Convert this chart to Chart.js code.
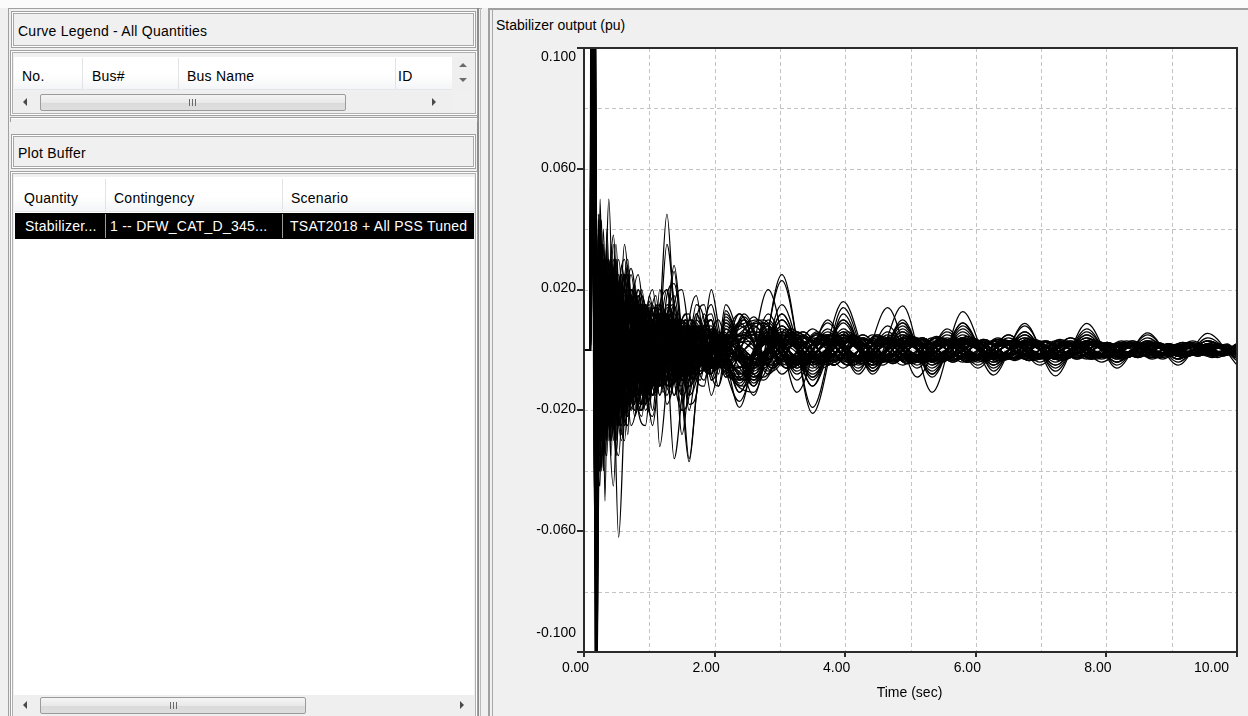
<!DOCTYPE html>
<html>
<head>
<meta charset="utf-8">
<title>Stabilizer output</title>
<script src="https://cdn.jsdelivr.net/npm/chart.js@4.4.1/dist/chart.umd.min.js"></script>
<style>
  html, body { margin:0; padding:0; }
  body { width:1248px; height:716px; overflow:hidden; position:relative; background:#f0f0f0;
         font-family:"Liberation Sans", Arial, sans-serif; font-size:14px; color:#000; }
  .a { position:absolute; box-sizing:border-box; }
  .t { position:absolute; white-space:nowrap; line-height:16px; letter-spacing:0.25px; }
  .hdrbox { border:1px solid #a0a0a0; box-shadow: inset 0 0 0 1px #ffffff, inset 0 0 0 2px #a8a8a8; background:#f0f0f0; }
  .panel { border:1px solid #a0a0a0; box-shadow: inset 0 0 0 1px #ffffff, inset 0 0 0 2px #b0b0b0; background:#f0f0f0; }
  .colhdr { background:linear-gradient(#ffffff 0%, #ffffff 55%, #f4f5f7 100%); border-bottom:1px solid #e3e6ea; }
  .sep { position:absolute; width:1px; background:#e1e3e6; }
  .track { background:#efefef; }
  .thumb { position:absolute; box-sizing:border-box; border:1px solid #9b9b9b; border-radius:2px;
           background:linear-gradient(#f4f4f4, #e9e9e9 50%, #dadada 51%, #dedede); }
  .grip { position:absolute; width:1px; height:7px; background:#6a6a6a; }
  .tl { position:absolute; width:0; height:0; border-top:4px solid transparent; border-bottom:4px solid transparent; border-right:4px solid #4a4a4a; }
  .tr { position:absolute; width:0; height:0; border-top:4px solid transparent; border-bottom:4px solid transparent; border-left:4px solid #4a4a4a; }
  .tu { position:absolute; width:0; height:0; border-left:4px solid transparent; border-right:4px solid transparent; border-bottom:4px solid #6a6a6a; }
  .td { position:absolute; width:0; height:0; border-left:4px solid transparent; border-right:4px solid transparent; border-top:4px solid #6a6a6a; }
  #c { position:absolute; left:494px; top:10px; }
  #dbg { position:absolute; left:600px; top:300px; color:red; font-size:20px; }
</style>
</head>
<body>
<div class="a" style="left:0;top:0;width:1248px;height:8px;background:#fbfbfb;"></div>

<div class="a" style="left:8px;top:8px;width:474px;height:720px;border-left:1px solid #a0a0a0;border-top:1px solid #a0a0a0;"></div>
<div class="a" style="left:477px;top:8px;width:2px;height:716px;background:#8c8c8c;"></div>
<div class="a" style="left:480px;top:8px;width:1px;height:716px;background:#b8b8b8;"></div>

<div class="a hdrbox" style="left:11px;top:11px;width:465px;height:37px;"></div>
<div class="t" style="left:18px;top:23px;">Curve Legend - All Quantities</div>

<div class="a panel" style="left:10px;top:50px;width:468px;height:66px;"></div>
<div class="a colhdr" style="left:14px;top:57px;width:438px;height:33px;"></div>
<div class="sep" style="left:82px;top:58px;height:31px;"></div>
<div class="sep" style="left:178px;top:58px;height:31px;"></div>
<div class="sep" style="left:395px;top:58px;height:31px;"></div>
<div class="t" style="left:22px;top:68px;">No.</div>
<div class="t" style="left:92px;top:68px;">Bus#</div>
<div class="t" style="left:187px;top:68px;">Bus Name</div>
<div class="t" style="left:398px;top:68px;">ID</div>
<div class="a track" style="left:452px;top:57px;width:22px;height:33px;"></div>
<div class="tu" style="left:459px;top:63px;"></div>
<div class="td" style="left:459px;top:78px;"></div>
<div class="a track" style="left:14px;top:92px;width:438px;height:21px;"></div>
<div class="tl" style="left:23px;top:98px;"></div>
<div class="thumb" style="left:40px;top:94px;width:306px;height:17px;"></div>
<div class="grip" style="left:189px;top:99px;"></div>
<div class="grip" style="left:192px;top:99px;"></div>
<div class="grip" style="left:195px;top:99px;"></div>
<div class="tr" style="left:432px;top:98px;"></div>

<div class="a" style="left:10px;top:117px;width:468px;height:1px;background:#a0a0a0;"></div>
<div class="a" style="left:10px;top:118px;width:468px;height:1px;background:#ffffff;"></div>
<div class="a" style="left:10px;top:117px;width:1px;height:5px;background:#a0a0a0;"></div>
<div class="a" style="left:477px;top:117px;width:1px;height:5px;background:#a0a0a0;"></div>

<div class="a hdrbox" style="left:11px;top:134px;width:465px;height:35px;"></div>
<div class="t" style="left:18px;top:145px;">Plot Buffer</div>

<div class="a panel" style="left:10px;top:171px;width:468px;height:560px;"></div>
<div class="a" style="left:14px;top:177px;width:460px;height:518px;background:#ffffff;"></div>
<div class="a colhdr" style="left:14px;top:178px;width:460px;height:34px;"></div>
<div class="sep" style="left:105px;top:179px;height:33px;"></div>
<div class="sep" style="left:282px;top:179px;height:33px;"></div>
<div class="t" style="left:24px;top:190px;">Quantity</div>
<div class="t" style="left:114px;top:190px;">Contingency</div>
<div class="t" style="left:291px;top:190px;">Scenario</div>
<div class="a" style="left:15px;top:213px;width:459px;height:26px;background:#000;"></div>
<div class="sep" style="left:105px;top:214px;height:24px;background:#9a9a9a;"></div>
<div class="sep" style="left:282px;top:214px;height:24px;background:#9a9a9a;"></div>
<div class="t" style="left:25px;top:218px;color:#fff;">Stabilizer...</div>
<div class="t" style="left:110px;top:218px;color:#fff;">1 -- DFW_CAT_D_345...</div>
<div class="t" style="left:290px;top:218px;color:#fff;">TSAT2018 + All PSS Tuned</div>
<div class="a track" style="left:14px;top:695px;width:460px;height:21px;"></div>
<div class="tl" style="left:23px;top:701px;"></div>
<div class="thumb" style="left:40px;top:697px;width:266px;height:17px;"></div>
<div class="grip" style="left:170px;top:702px;"></div>
<div class="grip" style="left:173px;top:702px;"></div>
<div class="grip" style="left:176px;top:702px;"></div>
<div class="tr" style="left:460px;top:701px;"></div>

<div class="a" style="left:488px;top:8px;width:760px;height:2px;background:#a0a0a0;"></div>
<div class="a" style="left:488px;top:8px;width:2px;height:708px;background:#a0a0a0;"></div>
<div class="a" style="left:492px;top:10px;width:1px;height:706px;background:#a8a8a8;"></div>
<div class="t" style="left:496px;top:17px;letter-spacing:0;">Stabilizer output (pu)</div>

<canvas id="c" width="754" height="706"></canvas>
<div id="dbg"></div>

<script>
// ================= DATA (in 0.001 pu) =================
const timeA = [0,0.09,0.12,0.15,0.18,0.22,0.27,0.32,0.38,0.45,0.53,0.62,0.72,0.83,0.94,1.05,1.16,1.27,1.38,1.5,1.61,1.72,1.84,1.95,2.06,2.17,
               2.6,3.03,3.5,3.97,4.42,4.88,5.33,5.8,6.27,6.75,7.22,7.7,8.16,8.63,9.1,9.55,10];
const timeB = [0,0.09,0.12,0.15,0.18,0.22,0.27,0.32,0.38,0.45,0.53,0.62,0.72,0.83,0.94,1.05,1.16,1.27,1.38,1.5,1.61,1.72,1.84,1.95,2.06,
               2.38,2.82,3.26,3.73,4.2,4.65,5.1,5.56,6.03,6.5,6.98,7.45,7.93,8.4,8.86,9.32,9.78,10];
const timeC = [0,0.1,0.13,0.165,0.2,0.245,0.295,0.35,0.415,0.49,0.575,0.67,0.775,0.885,1.0,1.1,1.21,1.32,1.44,1.555,1.665,1.78,1.895,2.0,2.11,
               2.75,3.18,3.65,4.12,4.57,5.03,5.48,5.95,6.42,6.9,7.37,7.85,8.31,8.78,9.25,9.7,10];
const timeD = [0,0.1,0.13,0.165,0.2,0.245,0.295,0.35,0.415,0.49,0.575,0.67,0.775,0.885,1.0,1.1,1.21,1.32,1.44,1.555,1.665,1.78,1.895,2.0,2.11,
               2.45,2.88,3.35,3.82,4.27,4.73,5.18,5.65,6.12,6.6,7.07,7.55,8.01,8.48,8.95,9.4,9.85,10];
const timeE = [0,0.095,0.125,0.16,0.19,0.235,0.285,0.34,0.4,0.47,0.55,0.645,0.75,0.86,0.97,1.08,1.19,1.3,1.41,1.53,1.64,1.76,1.87,1.98,2.09,
               2.67,3.1,3.57,4.04,4.49,4.95,5.4,5.87,6.34,6.82,7.29,7.77,8.23,8.7,9.17,9.62,10];

const a01 = [0,0,160,40,-70,20,-15,10,50,0,-62,-20,18,5,-12,-4,8,12,2,-10,-6,6,4,-5,0,11, -9,5,-4,4,-3,3,-3,3,-2,2,-2,2,-2,1.5,-1.5,1.5,-1.3];
const a02 = [0,0,220,80,-40,10,43,-50,20,-30,10,25,-5,-18,5,15,2,-12,-4,8,3,-6,2,5,-2,-9, 8,-4,3,-3,2.5,-2.5,2,-2,2,-1.5,1.5,-1.5,1.5,-1,1,-1,1];
const a03 = [0,0,120,100,-30,25,-20,15,30,-10,-25,10,20,15,0,-20,10,45,10,-28,-10,12,5,-10,0,15, -12,12,-10,9,-7,7,-6,6,-5,5,-4,4,-3,3,-3,3,-2.7];
const a04 = [0,0,90,130,-20,40,-30,25,-10,30,10,-25,-10,15,5,-15,5,35,15,-15,-37,-15,8,15,5,-5, -14,15,-12,10,-6,8,-7,7,-5,5,-5,5,-4,3,-3,3,-2.7];
const a05 = [0,0,200,20,-90,30,20,-25,5,35,-15,-30,10,25,5,-10,20,0,-36,-15,10,18,0,-15,-5,12, -11,10,-9,7,-5,6,-5,5,-4,4,-3,4,-3,2,-2,2,-1.8];
const a06 = [0,0,140,60,-50,-10,30,10,-30,-10,20,30,5,-20,-10,10,-32,-10,15,20,5,-10,-12,5,10,3, -10,8,-8,6,-5,5,-4,4,-3,3,-3,3,-2,2,-2,2,-1.8];
const a07 = [0,0,170,30,-60,40,-10,-30,-5,20,5,35,10,-20,-25,0,15,20,0,-20,-15,10,15,0,-12,-5, -6,8,-7,6,-5,6,-5,4,-4,4,-3,3,-2,2,-2,2,-1.8];
const a08 = [0,0,110,90,-40,20,-20,30,-10,-25,-5,15,27,10,-15,-22,-5,18,22,5,-18,-15,8,12,2,-6, -5,6,-5,5,-4,4,-4,4,-3,3,-3,3,-2,2,-2,2,-1.8];
const a09 = [0,0,250,140,-30,10,-40,20,30,-20,-35,0,25,5,-20,-10,15,10,-10,-20,0,15,10,-8,-12,0, -5,7,-6,5,-5,5,-4,4,-3,3,-3,3,-2,2,-2,1.5,-1.4];
const a10 = [0,0,130,50,-20,30,-30,10,25,-10,-20,5,18,10,-10,-15,5,20,5,-15,-10,8,5,-10,-5,13, -15,25,-21,12,-8,10,-9,9,-6,6,-6,6,-4,4,-3,3,-2.7];
const a11 = [0,0,180,-20,-60,20,15,-20,0,25,0,-18,-5,12,10,-10,-12,10,18,0,-12,-8,6,10,0,5, -12,23,-19,14,-7,9,-8,8,-5,6,-5,5,-4,3,-3,3,-2.7];
const a12 = [0,0,100,70,-80,0,25,5,-20,0,15,10,-15,-10,12,8,-10,5,15,-5,-15,0,12,5,-8,7, -10,12,-12,16,-6,14.6,-14,12.7,-7,8,-7,7,-5,5,-4,4,-3.6];
const a13 = [0,0,150,110,-10,-20,10,20,-15,-20,10,15,0,-15,-5,10,12,-5,-15,0,10,8,-5,-8,2,9, -8,10,-9,10,-5,9,-8,9,-8.3,8.8,-8.6,8.8,-6,5.7,-5,5.5,-5];
const a14 = [0,0,60,80,20,-20,15,-10,20,-5,-15,10,15,-5,-12,0,10,8,-6,-10,2,8,3,-6,-3,8, -7,4,-4,4,-3,3,-3,3,-2.5,2.5,-2.5,2.5,-2,2,-1.5,1.5,-1.4];
const a15 = [0,0,90,40,-30,15,5,-15,10,15,-5,-10,5,10,-2,-8,0,10,4,-6,-6,3,5,-2,-4,2, -3,5,-3,5,-3,4,-3,4,-3,3,-2,3,-2,2,-2,2,-1.8];
const a16 = [0,0,200,120,-75,10,-10,20,-20,10,5,-10,-10,8,10,-5,-10,2,8,5,-5,-6,3,6,-2,-9, 8,-5,4,-4,3,-3,3,-3,3,-2,2,-2,2,-1.5,1.5,-1.5,1.4];
const a17 = [0,0,60,30,-150,-20,30,-30,15,20,-15,-20,5,18,0,-12,-6,8,10,-4,-10,0,8,3,-5,-2, -5,4,-4,5,-4,4,-3,4,-3,3,-3,2,-2,2,-2,1.5,-1.4];
const a18 = [0,0,40,70,-120,40,-20,25,-15,-10,20,0,-18,-5,15,5,-12,-2,12,5,-8,-5,5,4,-4,-2, -3,3,-3,3,-2,3,-2,2,-2,2,-2,2,-1.5,1.5,-1,1,-0.9];
const a19 = [0,0,130,10,-85,35,0,-20,25,-10,-20,5,20,-5,-18,0,12,5,-10,-8,5,8,-2,-6,0,9, -8,5,-4,4,-3,4,-3,3,-3,3,-2,2,-2,2,-1.5,1.5,-1.4];
const a20 = [0,0,70,50,-40,-5,20,0,-15,5,12,-3,-10,2,8,0,-6,6,5,-4,-5,3,4,-2,-3,2, -2,3,-2,3,-2,2,-2,2,-2,2,-1.5,2,-1.5,1.5,-1,1,-0.9];
const a21 = [0,0,110,20,-50,25,-15,5,15,-12,-8,12,4,-10,-3,9,2,10,0,-10,-2,7,2,-6,-1,10, -9,6,-5,5,-4,4,-3.5,3.5,-3,3,-3,3,-2.5,2.5,-2,2,-1.8];
const a22 = [0,0,80,60,-20,10,-25,15,5,-15,0,20,-5,-15,8,10,-8,-5,10,5,-8,-2,6,2,-5,-1, -3,2,-4,3,-3,3,-2,3,-2,2,-2,2,-2,1.5,-1.5,1.5,-1.4];
const a23 = [0,0,150,80,-40,20,-10,25,-20,-5,20,5,-15,-10,10,12,-5,-15,-5,10,5,-10,5,20,8,-5, 11,-8,7,-6,5,-5,4,-4,3,-3,3,-3,2,-2,2,-2,1.8];
const a24 = [0,0,50,100,0,-30,10,10,-10,5,8,-8,-4,6,4,-5,-2,7,2,-6,-2,5,1,-4,0,7, -6,3,-2.5,3,-2.5,2.5,-2,2.5,-2,2,-2,2,-1.5,1.5,-1,1,-0.9];

const b01 = [0,0,160,60,-50,30,-25,15,20,-15,-20,10,15,0,-15,-5,12,8,-8,-12,0,10,5,-6,5, -19,20,-14,10,-8,8,-6,6,-5,5,-4,4,-3,3,-2.5,2.5,-2,0];
const b02 = [0,0,90,120,-20,-30,20,5,-25,5,25,5,-20,-10,15,8,-12,-5,10,5,-10,-5,8,4,0, -17,12,-10,9,-7,14,-9,7,-6,5,-5,4,-4,3,-3,3,-2,0.3];
const b03 = [0,0,120,30,-70,20,10,-20,10,15,-10,-15,8,12,-5,-10,5,10,-3,-8,3,7,-2,-6,2, -12,5,-4,4,-3,3,-3,3,-2.5,2.5,-2,2,-2,2,-1.5,1.5,-1,-0.2];
const b04 = [0,0,210,50,-30,45,-20,-10,30,0,-25,-10,20,10,-15,-12,10,12,-5,-15,0,12,3,-8,-2, 12,-8,6,-5,4,-4,4,-3,3,-3,3,-2,2,-2,1.5,-1.5,1,0.2];
const b05 = [0,0,70,110,-60,0,35,-15,-20,10,30,5,-25,-15,10,20,0,-18,-10,10,12,-4,-10,0,6, -14,9,-7,6,-5,5,-4,4,-3,3,-3,3,-2,2,-2,2,-1.5,-0.3];
const b06 = [0,0,100,40,-30,20,-5,-15,12,5,-12,2,10,-4,-8,3,7,-2,-6,2,5,-2,-4,2,3, -8,3,-3,3,-2,2,-2,2,-2,2,-1.5,1.5,-1.5,1.5,-1,1,-1,0];
const b07 = [0,0,300,200,-40,-25,25,30,-10,-25,0,20,10,-15,-10,12,5,-12,-3,10,2,-8,0,7,1, -10,5,-4,4,-3,3,-3,3,-2,2,-2,2,-1.5,1.5,-1.5,1.5,-1,0];
const b08 = [0,0,140,90,-60,10,20,-35,10,20,-10,-22,0,18,5,-15,-8,14,8,-10,-10,6,8,-4,-6, 12,-7,6,-5,4,-4,3,-3,3,-3,2,-2,2,-2,1.5,-1.5,1,0];
const b09 = [0,0,40,60,-10,-15,8,5,-8,0,6,2,-5,-2,5,1,-4,0,4,0,-3,0,3,0,-2, 3,-3,2,-2,2,-2,2,-2,2,-1.5,1.5,-1.5,1.5,-1,1,-1,1,0];
const b10 = [0,0,180,10,-40,30,-10,10,-15,20,5,-20,-8,18,5,-15,-5,12,4,-10,-3,9,2,-8,0, -11,6,-5,5,-4,4,-3,3,-3,3,-2,2,-2,2,-1.5,1.5,-1,0];
const b11 = [0,0,90,160,-70,40,15,30,-20,-45,0,25,15,-20,-18,8,15,0,-15,-5,10,8,-6,-8,4, -14,10,-8,7,-6,6,-5,5,-4,4,-3,3,-2.5,2.5,-2,2,-1.5,0];
const b12 = [0,0,130,70,10,-40,20,-20,0,15,-15,0,12,-10,-5,10,3,-10,0,8,-2,-7,2,5,-3, 9,-5,4,-4,3,-3,3,-3,2,-2,2,-2,2,-1.5,1.5,-1,1,0];
const b13 = [0,0,110,40,20,10,-35,10,25,-10,-20,10,18,-5,-15,0,12,5,-10,-5,8,3,-7,-2,5, -10,4,-4,4,-3,3,-3,3,-2,2,-2,2,-2,1.5,-1.5,1,-1,0];
const b14 = [0,0,150,-30,-50,30,-15,0,20,38,5,-20,-10,10,15,0,-15,-5,10,8,-6,-8,4,6,-2, -9,5,-5,4,-4,3,-3,3,-2.5,2.5,-2,2,-2,1.5,-1.5,1.5,-1,0];
const b15 = [0,0,100,80,-40,20,0,-20,15,20,-10,-20,5,20,0,-15,-5,10,28,5,-15,-10,8,10,-3, -10,7,-6,5,-4,4,-4,3,-3,3,-2,2,-2,2,-1.5,1.5,-1,0];
const b16 = [0,0,170,20,-30,10,20,-5,-25,5,20,10,-15,-10,15,5,-15,5,26,0,-20,-5,10,5,-5, -8,6,-5,5,-4,4,-3,3,-3,3,-2,2,-2,2,-1.5,1.5,-1,0];
const b17 = [0,0,120,60,-20,-10,30,-20,0,25,0,-25,-5,20,10,-15,-5,15,10,-10,-36,-15,5,10,0, -9,8,-6,5,-4,4,-3,3,-3,3,-2,2,-2,2,-1.5,1.5,-1,0];
const b18 = [0,0,80,100,-50,15,-5,25,-15,-20,10,18,0,-10,-12,-25,-5,12,15,0,-12,-6,6,8,0, -6,6,-5,4,-4,4,-3,3,-3,2.5,-2,2,-2,1.5,-1.5,1.5,-1,0];
const b19 = [0,0,60,20,-20,10,5,-8,-3,10,3,-8,-2,7,2,-6,-1,6,1,-5,0,4,0,-4,1, -7,4,-3,3,-2.5,2.5,-2,2,-2,2,-1.5,1.5,-1.5,1.5,-1,1,-1,0];
const b20 = [0,0,50,90,-30,-10,12,-5,-10,8,6,-6,-4,6,2,-5,-2,5,2,-4,-1,4,1,-3,-1, 8,-3,3,-3,2,-2,2,-2,2,-2,1.5,-1.5,1.5,-1.5,1,-1,1,0];

const c01 = [0,0,150,60,-40,30,-30,25,-20,15,-20,20,-15,10,-12,12,-10,10,-8,8,-7,7,-6,6,-5, 9,-6,5,-5,4.5,-4.5,4,-4,3.5,-3.5,3,-3,3,-2.5,2.5,-2.5,2];
const c02 = [0,0,90,130,-20,-35,20,10,-25,25,5,-20,-15,15,12,-10,-8,12,5,-9,-6,8,3,-7,-2, 10,-6,5,-5,4,-4,4,-3.5,3,-3,3,-2.5,2.5,-2,2,-2,1.5];
const c03 = [0,0,200,30,-60,20,35,-10,-30,10,25,-5,-20,5,15,-8,-12,10,6,-10,-3,8,0,-6,3, -5,5,-4.5,4.5,-4,4,-3.5,3.5,-3,3,-3,2.5,-2.5,2,-2,2,-1.5];
const c04 = [0,0,60,110,-45,45,-10,-25,30,-5,-28,15,12,-18,-5,15,5,-12,-6,10,4,-8,-3,7,2, 6,-5,5,-4,4,-3.5,3.5,-3,3,-3,2.5,-2.5,2,-2,2,-1.5,1.5];
const c05 = [0,0,120,80,-100,10,-20,40,-5,-35,10,30,-10,-22,8,18,-6,-14,5,12,-4,-10,3,8,-2, -9,6,-5,5,-4,4,-3.5,3.5,-3,3,-3,3,-2.5,2.5,-2,2,-1.8];
const c06 = [0,0,240,170,-20,-45,25,15,-15,-30,20,25,-10,-20,0,14,10,-10,-8,6,8,-4,-7,2,5, -4,4,-4,3.5,-3.5,3,-3,3,-2.5,2.5,-2,2,-2,1.5,-1.5,1.5,-1.3];
const c07 = [0,0,80,40,-70,35,-40,20,25,-20,-25,8,20,-2,-15,-5,12,5,-10,-6,8,6,-6,-5,4, -10,7,-6,5,-5,4.5,-4,4,-3.5,3.5,-3,3,-2.5,2.5,-2,2,-1.8];
const c08 = [0,0,170,20,-35,25,10,-30,15,30,-15,-25,15,15,-12,-10,10,8,-8,-6,7,5,-5,-4,4, 5,-5,4,-4,3.5,-3.5,3,-3,2.5,-2.5,2.5,-2,2,-2,1.5,-1.5,1.3];
const c09 = [0,0,50,70,-15,-25,15,-5,-20,20,0,-18,10,12,-10,-6,10,2,-9,0,7,-1,-6,1,5, -4,4,-3.5,3.5,-3,3,-3,2.5,-2.5,2.5,-2,2,-2,1.5,-1.5,1.5,-1.3];
const c10 = [0,0,140,100,-50,0,30,-15,-25,15,20,-10,-18,8,14,-6,-12,5,10,-4,-8,3,7,-2,-6, 5,-4.5,4,-4,3.5,-3,3,-3,2.5,-2.5,2,-2,2,-1.5,1.5,-1.5,1.3];
const c11 = [0,0,100,50,-30,40,-20,-35,15,25,-5,-22,0,18,5,-14,-5,12,3,-10,-2,8,1,-7,0, 9,-5.5,5,-5,4,-4,3.5,-3.5,3,-3,2.5,-2.5,2,-2,2,-1.8,1.6];
const c12 = [0,0,260,90,-60,20,-15,30,-30,5,25,-15,-15,12,10,-10,-6,9,5,-8,-3,7,2,-6,-1, -3,3,-3,3,-2.5,2.5,-2.5,2.5,-2,2,-2,2,-1.5,1.5,-1.5,1.2,-1];
const c13 = [0,0,70,150,0,-30,-10,25,5,-25,-8,20,10,-15,-10,12,8,-10,-6,8,5,-7,-4,6,3, -5,5,-4,4,-3.5,3.5,-3,3,-3,2.5,-2.5,2.5,-2,2,-1.8,1.8,-1.5];
const c14 = [0,0,110,30,-80,50,0,-25,35,-10,-30,5,22,-5,-18,3,14,-2,-12,2,10,-2,-8,1,6, -6,6,-5,5,-4,4,-4,3.5,-3,3,-3,2.5,-2.5,2,-2,2,-1.8];
const c15 = [0,0,30,45,-20,15,-10,12,-15,10,8,-12,-6,10,5,-8,-4,7,3,-6,-2,5,1,-4,0, 3,-3,3,-2.5,2.5,-2.5,2,-2,2,-2,1.5,-1.5,1.5,-1.5,1,-1,1];
const c16 = [0,0,190,120,-30,-20,40,0,-30,-10,28,10,-22,-8,16,6,-12,-4,10,3,-8,-2,6,1,-5, 4,-4,3.5,-3.5,3,-3,3,-2.5,2.5,-2.5,2,-2,2,-1.5,1.5,-1.5,1.2];

const d01 = [0,0,130,70,-55,25,-35,10,30,-15,-25,20,10,-20,-5,15,2,-12,-2,10,1,-8,0,7,-1, -10,6,-5,5,-4.5,4,-4,3.5,-3.5,3,-3,2.5,-2.5,2,-2,2,-1.5,0.5];
const d02 = [0,0,220,40,-25,-40,30,25,-20,-25,15,22,-12,-18,10,14,-8,-12,6,9,-5,-7,4,6,-3, 11,-7,6,-5,5,-4.5,4,-4,3.5,-3,3,-3,2.5,-2.5,2,-2,2,-0.5];
const d03 = [0,0,90,110,-70,30,5,-30,20,15,-20,-5,18,0,-14,4,12,-4,-10,3,8,-3,-7,2,5, -5,5,-4,4,-3.5,3.5,-3,3,-3,2.5,-2.5,2,-2,2,-1.5,1.5,-1.2,0.3];
const d04 = [0,0,160,160,-10,20,-25,-5,30,-30,10,25,-20,-12,18,5,-14,-2,12,0,-10,1,8,-1,-6, 10,-6,5,-5,4,-4,3.5,-3.5,3,-3,2.5,-2.5,2,-2,2,-1.5,1.5,-0.3];
const d05 = [0,0,45,65,-40,0,20,-15,-10,18,-5,-15,10,8,-10,-4,8,2,-7,-1,6,0,-5,0,4, -4,4,-3.5,3.5,-3,3,-3,2.5,-2.5,2.5,-2,2,-2,1.5,-1.5,1.5,-1,0.3];
const d06 = [0,0,280,60,-90,45,-20,15,-35,25,10,-28,15,10,-20,8,8,-15,5,10,-10,3,7,-6,2, 5,-5,4.5,-4,4,-3.5,3.5,-3,3,-3,2.5,-2.5,2,-2,2,-1.5,1.5,-0.5];
const d07 = [0,0,100,20,-45,15,30,-20,-15,30,0,-22,-5,18,3,-14,-2,12,1,-10,0,8,0,-7,0, 10,-6,5,-5,4,-4,4,-3.5,3,-3,3,-2.5,2.5,-2,2,-2,1.5,0];
const d08 = [0,0,60,120,-30,-25,10,35,-25,-5,25,-10,-18,12,10,-12,-6,10,4,-9,-2,7,1,-6,0, -10,6,-5,5,-4.5,4,-4,3.5,-3,3,-3,2.5,-2.5,2,-2,2,-1.5,-0.3];
const d09 = [0,0,180,90,-40,35,-15,-20,25,0,-22,5,18,-8,-12,8,10,-8,-7,6,5,-5,-4,4,3, -3,3,-3,3,-2.5,2.5,-2.5,2,-2,2,-2,1.5,-1.5,1.5,-1.5,1,-1,0.3];
const d10 = [0,0,120,40,-110,20,10,-25,30,-20,-10,25,-5,-18,12,8,-12,-4,10,2,-8,-1,7,0,-5, 12,-6,6,-5,5,-4.5,4,-4,3.5,-3.5,3,-3,2.5,-2.5,2,-2,1.8,-0.5];
const d11 = [0,0,75,95,-20,10,-30,20,10,-20,20,0,-18,10,8,-12,0,10,-2,-8,3,6,-3,-5,2, -5,4.5,-4.5,4,-4,3.5,-3.5,3,-3,3,-2.5,2.5,-2,2,-2,1.5,-1.5,0];
const d12 = [0,0,210,130,-65,-10,35,-25,5,30,-18,-15,20,5,-15,-3,12,0,-10,2,8,-2,-6,2,5, 4,-4,4,-3.5,3.5,-3,3,-3,2.5,-2.5,2.5,-2,2,-2,1.5,-1.5,1.5,-0.3];
const d13 = [0,0,35,55,-25,20,-8,-12,15,-5,-12,10,4,-9,-2,8,1,-7,0,6,0,-5,0,4,0, -3,3,-3,2.5,-2.5,2.5,-2,2,-2,2,-1.5,1.5,-1.5,1.5,-1,1,-1,0];
const d14 = [0,0,150,50,-75,40,-40,15,20,-35,5,28,-10,-20,12,14,-10,-10,8,7,-6,-5,5,4,-4, -12,7,-6,5.5,-5,5,-4.5,4,-4,3.5,-3,3,-2.5,2.5,-2,2,-1.8,0.5];
const d15 = [0,0,95,140,-35,30,0,-10,-20,20,15,-15,-12,14,5,-10,-3,9,1,-8,0,6,-1,-5,1, 5,-5,4,-4,3.5,-3.5,3,-3,2.5,-2.5,2.5,-2,2,-2,1.5,-1.5,1.2,0];
const d16 = [0,0,230,20,-50,25,-10,-30,10,35,-10,-25,5,20,-5,-15,4,12,-3,-10,2,8,-2,-6,1, -4,4,-4,3.5,-3.5,3,-3,2.5,-2.5,2.5,-2,2,-2,1.5,-1.5,1.5,-1.2,0];

const e01 = [0,0,110,50,-60,30,-20,20,-25,20,-15,15,-12,12,-10,10,-9,9,-8,7,-7,6,-5,5,-4, 9,-6,5.5,-5,5,-4.5,4.5,-4,4,-3.5,3.5,-3,3,-3,2.5,-2.5,2.2];
const e02 = [0,0,70,140,-30,-20,30,-20,10,15,-18,5,14,-12,-4,10,2,-9,-1,8,0,-6,0,5,0, -10,7,-6,6,-5,5,-4.5,4.5,-4,4,-3.5,3.5,-3,3,-2.5,2.5,-2.2];
const e03 = [0,0,190,60,-20,25,-35,15,25,-15,-20,10,15,-8,-12,6,10,-5,-9,4,8,-3,-6,2,5, -5,6,-5,5,-4.5,4.5,-4,4,-3.5,3.5,-3,3,-3,2.5,-2.5,2,-1.8];
const e04 = [0,0,45,80,-50,10,25,-30,5,28,-10,-20,8,15,-6,-12,4,10,-3,-8,2,7,-2,-6,1, 6,-5,5,-5,4,-4,4,-3.5,3.5,-3,3,-2.5,2.5,-2.5,2,-2,1.8];
const e05 = [0,0,130,100,-80,40,0,-25,20,-5,-20,18,2,-15,8,8,-10,-2,9,-3,-6,5,2,-5,0, -4,5,-4.5,4,-4,4,-3.5,3.5,-3,3,-3,2.5,-2.5,2,-2,2,-1.8];
const e06 = [0,0,240,30,-40,-15,20,25,-30,0,22,-12,-14,15,4,-12,-2,10,0,-8,1,7,-1,-6,2, 5,-6,5,-5,4.5,-4.5,4,-4,3.5,-3.5,3,-3,2.5,-2.5,2.5,-2,2];
const e07 = [0,0,85,60,-25,35,-10,-15,15,-25,12,10,-15,0,12,-6,-8,7,4,-6,-3,5,1,-4,-1, -6,5,-5,4.5,-4,4,-3.5,3.5,-3,3,-2.5,2.5,-2,2,-2,1.5,-1.4];
const e08 = [0,0,160,120,-15,-40,15,10,-20,25,0,-22,12,10,-15,-4,12,0,-10,3,7,-3,-6,2,4, 10,-6,6,-5,5,-4.5,4,-4,3.5,-3.5,3,-3,2.5,-2.5,2,-2,1.8];
const e09 = [0,0,55,35,-70,20,-5,15,-10,10,-12,8,-8,10,-6,7,-5,6,-5,5,-4,4,-3,3,-3, -3,3.5,-3,3,-3,3,-2.5,2.5,-2.5,2.5,-2,2,-2,2,-1.5,1.5,-1.4];
const e10 = [0,0,100,180,-45,15,-30,30,-5,-20,15,5,-14,6,8,-10,-2,8,0,-7,2,5,-2,-4,1, 4,-4,4,-4,3.5,-3.5,3,-3,3,-2.5,2.5,-2.5,2,-2,1.5,-1.5,1.4];

const groups = [
  { times: timeA, curves: [a01,a02,a03,a04,a05,a06,a07,a08,a09,a10,a11,a12,a13,a14,a15,a16,a17,a18,a19,a20,a21,a22,a23,a24] },
  { times: timeB, curves: [b01,b02,b03,b04,b05,b06,b07,b08,b09,b10,b11,b12,b13,b14,b15,b16,b17,b18,b19,b20] },
  { times: timeC, curves: [c01,c02,c03,c04,c05,c06,c07,c08,c09,c10,c11,c12,c13,c14,c15,c16] },
  { times: timeD, curves: [d01,d02,d03,d04,d05,d06,d07,d08,d09,d10,d11,d12,d13,d14,d15,d16] },
  { times: timeE, curves: [e01,e02,e03,e04,e05,e06,e07,e08,e09,e10] }
];

const yTickValues = [100, 60, 20, -20, -60, -100];
const yTickLabels = ['0.100', '0.060', '0.020', '-0.020', '-0.060', '-0.100'];
const xTickValues = [0, 2, 4, 6, 8, 10];
const xTickLabels = ['0.00', '2.00', '4.00', '6.00', '8.00', '10.00'];
const yGridValues = [80, 60, 40, 20, 0, -20, -40, -60, -80];
const xGridValues = [1, 2, 3, 4, 5, 6, 7, 8, 9];
const xTitle = 'Time (sec)';

// ================= CHART =================
const bad = [];
groups.forEach((g, gi) => g.curves.forEach((c, i) => { if (c.length !== g.times.length) bad.push('g' + gi + '-' + (i + 1) + ':' + c.length + '/' + g.times.length); }));
if (bad.length) document.getElementById('dbg').textContent = 'len ' + bad.join(' ');

const lineStyle = { borderColor: '#000000', borderWidth: 1.25, pointRadius: 0, fill: false, cubicInterpolationMode: 'monotone' };
const datasets = [];
groups.forEach(g => g.curves.forEach(c => {
  datasets.push(Object.assign({ data: c.map((v, i) => ({ x: g.times[i], y: v })) }, lineStyle));
}));

const FONT = '14px "Liberation Sans", Arial, sans-serif';
const axisPlugin = {
  id: 'tsatAxes',
  beforeDatasetsDraw(chart) {
    const { ctx, chartArea: a, scales: { x, y } } = chart;
    ctx.save();
    ctx.fillStyle = '#ffffff';
    ctx.fillRect(a.left, a.top, a.right - a.left, a.bottom - a.top);
    ctx.strokeStyle = '#c3c3c3';
    ctx.lineWidth = 1;
    ctx.setLineDash([4, 3]);
    ctx.beginPath();
    xGridValues.forEach(v => { const px = Math.round(x.getPixelForValue(v)) + 0.5; ctx.moveTo(px, a.top); ctx.lineTo(px, a.bottom); });
    yGridValues.forEach(v => { const py = Math.round(y.getPixelForValue(v)) + 0.5; ctx.moveTo(a.left, py); ctx.lineTo(a.right, py); });
    ctx.stroke();
    ctx.restore();
  },
  afterDatasetsDraw(chart) {
    const { ctx, chartArea: a, scales: { x, y } } = chart;
    ctx.save();
    ctx.setLineDash([]);
    ctx.strokeStyle = '#2b2b2b';
    ctx.lineWidth = 2;
    ctx.strokeRect(a.left, a.top, a.right - a.left, a.bottom - a.top);
    ctx.beginPath();
    yTickValues.forEach(v => { const py = Math.round(y.getPixelForValue(v)); ctx.moveTo(a.left - 7, py); ctx.lineTo(a.left, py); });
    xTickValues.forEach(v => { const px = Math.round(x.getPixelForValue(v)); ctx.moveTo(px, a.bottom); ctx.lineTo(px, a.bottom + 5); });
    ctx.stroke();
    ctx.fillStyle = '#000000';
    ctx.font = FONT;
    ctx.textAlign = 'right';
    ctx.textBaseline = 'middle';
    yTickValues.forEach((v, i) => {
      let py = y.getPixelForValue(v) - 1;
      py = Math.min(Math.max(py, a.top + 9.5), a.bottom - 19);
      ctx.fillText(yTickLabels[i], a.left - 8, py);
    });
    ctx.textAlign = 'center';
    xTickValues.forEach((v, i) => {
      const w = ctx.measureText(xTickLabels[i]).width;
      let cx = x.getPixelForValue(v) - 8.5;
      if (cx + w / 2 > a.right - 8) cx = a.right - 8 - w / 2;
      ctx.fillText(xTickLabels[i], cx, a.bottom + 16);
    });
    ctx.fillText(xTitle, (a.left + a.right) / 2 - 1, a.bottom + 41);
    ctx.restore();
  }
};

new Chart(document.getElementById('c'), {
  type: 'line',
  data: { datasets },
  options: {
    responsive: false,
    animation: false,
    devicePixelRatio: 1,
    events: [],
    layout: { padding: { left: 0, top: 38, right: 11, bottom: 0 } },
    plugins: { legend: { display: false }, tooltip: { enabled: false }, title: { display: false } },
    scales: {
      x: { type: 'linear', min: 0, max: 10, ticks: { display: false, stepSize: 1 },
           grid: { display: false }, border: { display: false }, afterFit(s) { s.height = 64; } },
      y: { type: 'linear', min: -100, max: 100, ticks: { display: false, stepSize: 20 },
           grid: { display: false }, border: { display: false }, afterFit(s) { s.width = 90; } }
    }
  },
  plugins: [axisPlugin]
});
</script>
</body>
</html>
